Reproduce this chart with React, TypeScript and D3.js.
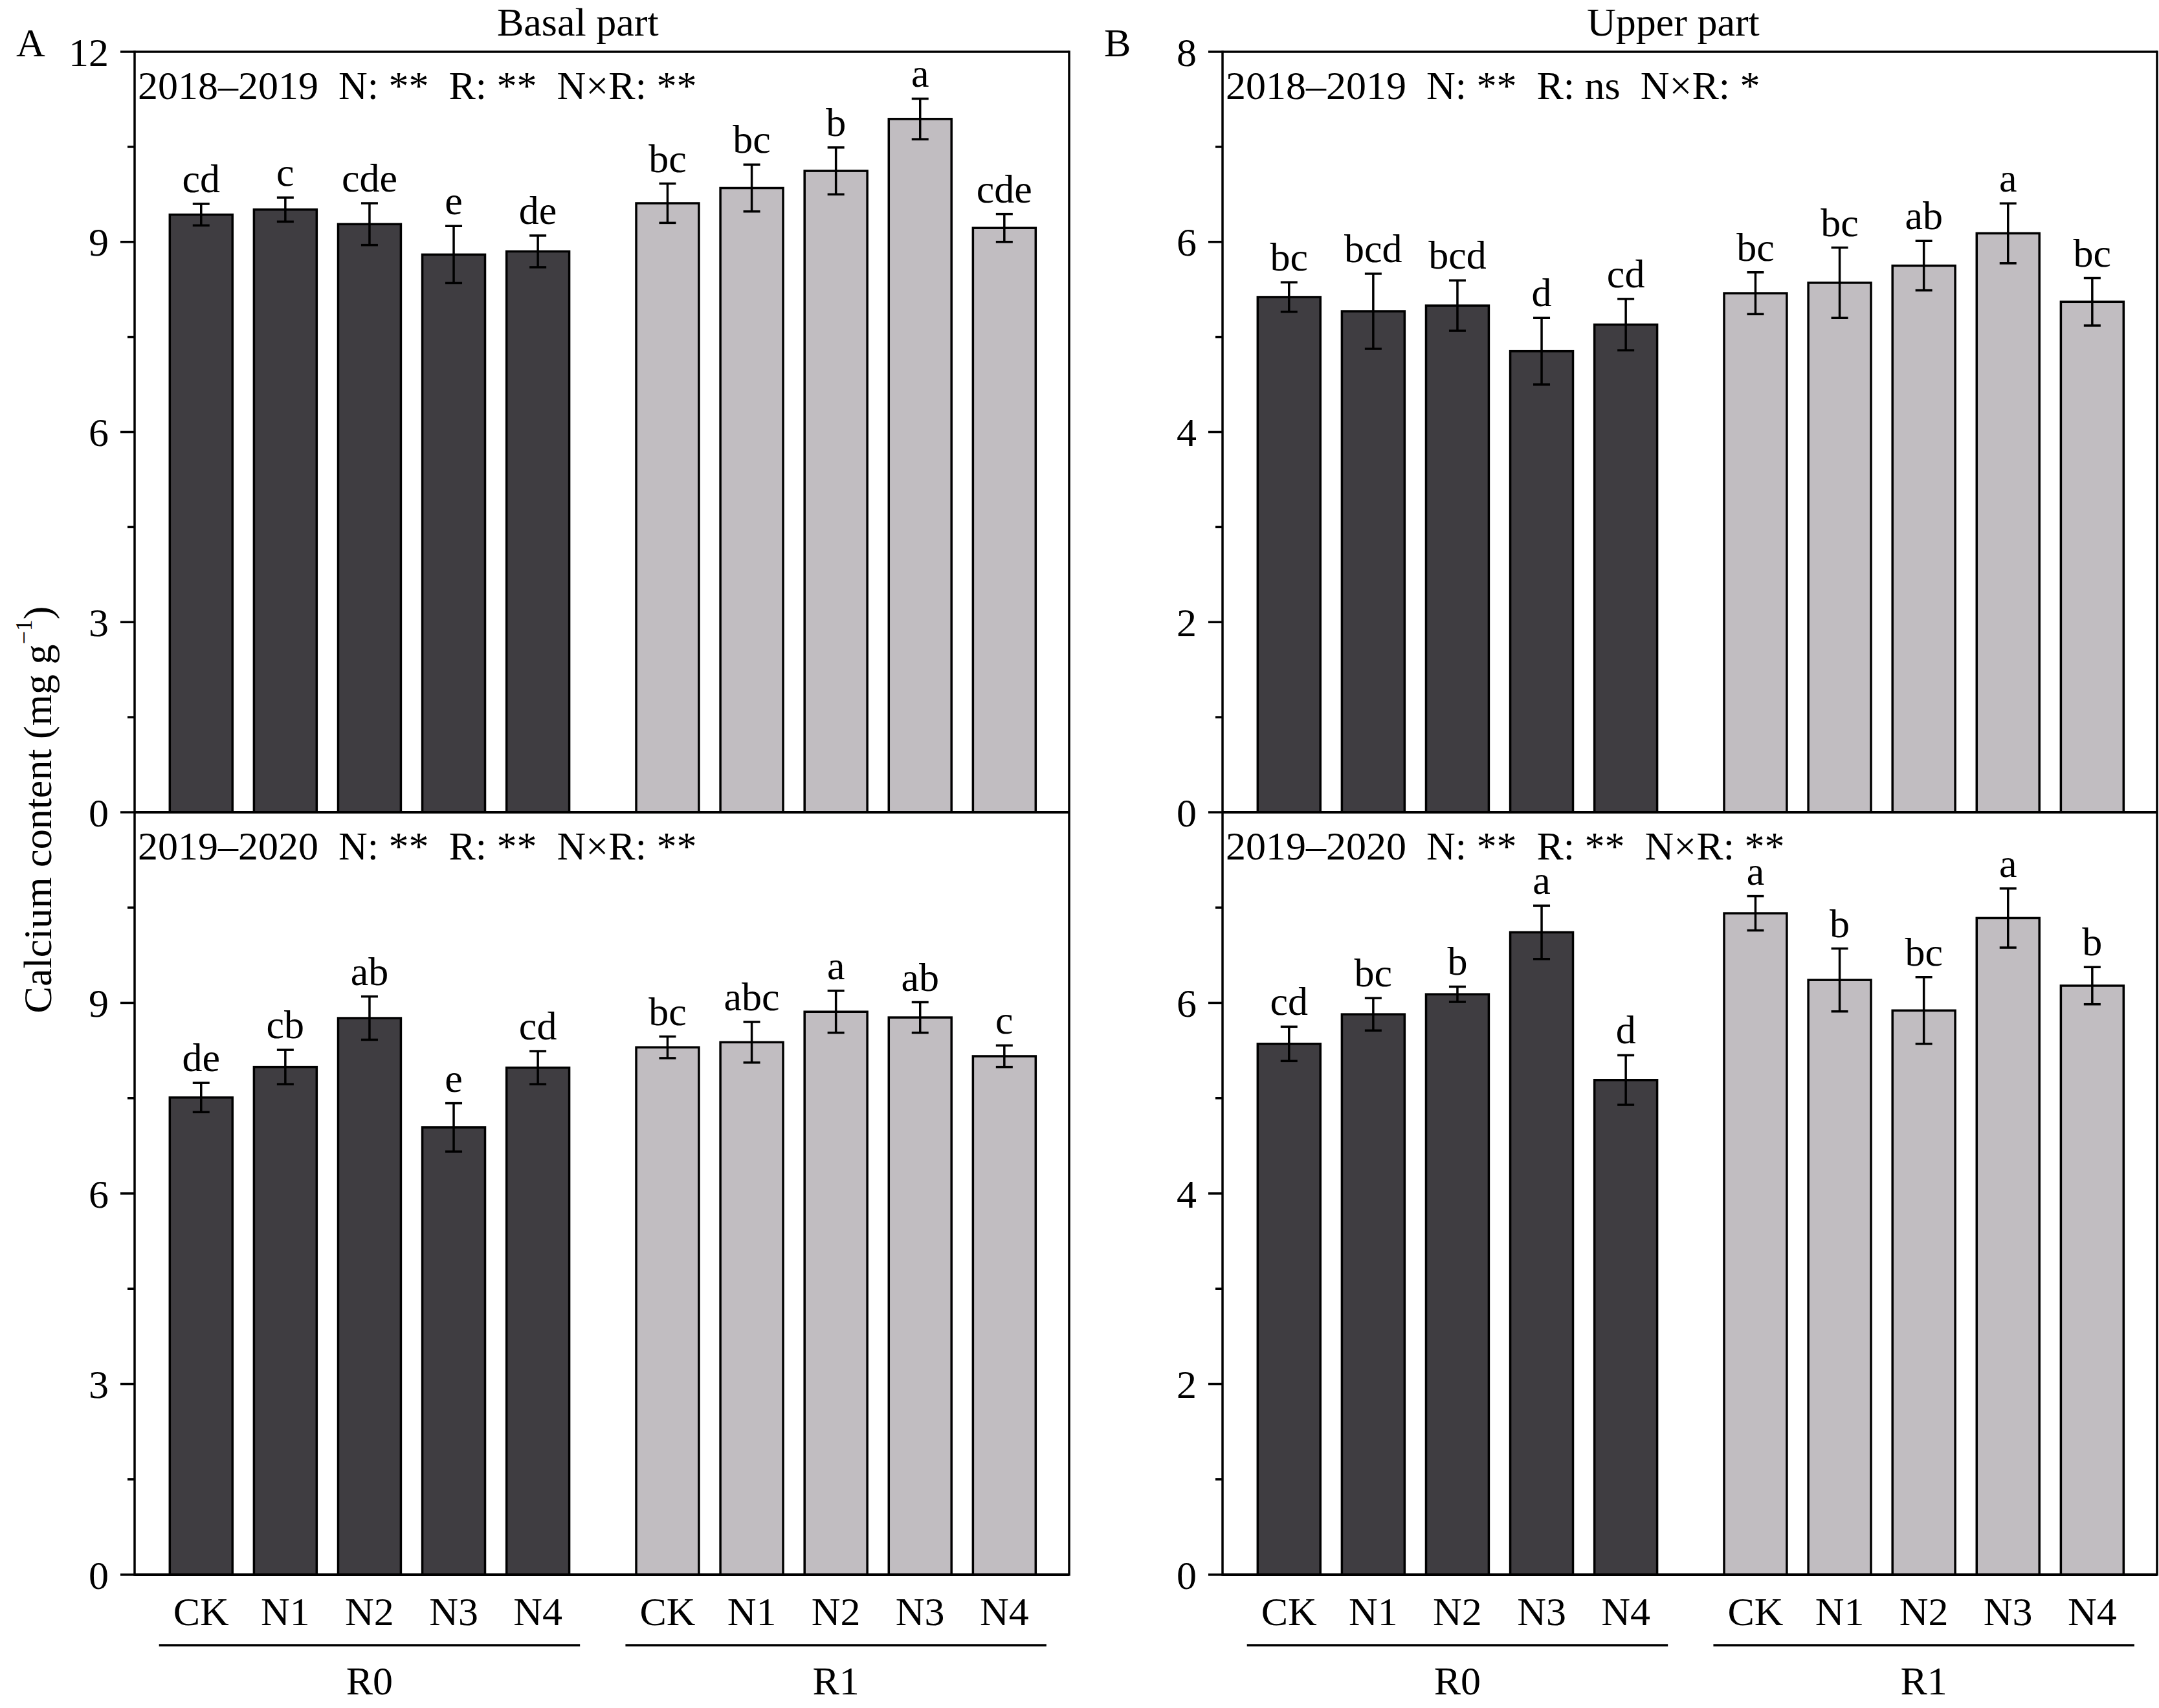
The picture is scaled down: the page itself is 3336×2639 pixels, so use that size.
import React from 'react';
import * as d3 from 'd3';

// ---- data ----
const treatments = ['CK', 'N1', 'N2', 'N3', 'N4'];
const residues = ['R0', 'R1'];

// A: basal part, 2018–2019
const basal1819R0 = [9.43, 9.51, 9.28, 8.8, 8.85];
const basal1819R0Err = [0.17, 0.19, 0.33, 0.45, 0.25];
const basal1819R0Sig = ['cd', 'c', 'cde', 'e', 'de'];
const basal1819R1 = [9.61, 9.85, 10.12, 10.94, 9.22];
const basal1819R1Err = [0.31, 0.37, 0.37, 0.32, 0.22];
const basal1819R1Sig = ['bc', 'bc', 'b', 'a', 'cde'];

// A: basal part, 2019–2020
const basal1920R0 = [7.51, 7.99, 8.76, 7.04, 7.98];
const basal1920R0Err = [0.23, 0.27, 0.34, 0.38, 0.26];
const basal1920R0Sig = ['de', 'cb', 'ab', 'e', 'cd'];
const basal1920R1 = [8.3, 8.38, 8.86, 8.77, 8.16];
const basal1920R1Err = [0.17, 0.32, 0.33, 0.24, 0.17];
const basal1920R1Sig = ['bc', 'abc', 'a', 'ab', 'c'];

// B: upper part, 2018–2019
const upper1819R0 = [5.42, 5.27, 5.33, 4.85, 5.13];
const upper1819R0Err = [0.155, 0.395, 0.265, 0.35, 0.27];
const upper1819R0Sig = ['bc', 'bcd', 'bcd', 'd', 'cd'];
const upper1819R1 = [5.46, 5.57, 5.75, 6.09, 5.37];
const upper1819R1Err = [0.22, 0.37, 0.26, 0.315, 0.25];
const upper1819R1Sig = ['bc', 'bc', 'ab', 'a', 'bc'];

// B: upper part, 2019–2020
const upper1920R0 = [5.57, 5.88, 6.09, 6.74, 5.19];
const upper1920R0Err = [0.18, 0.17, 0.08, 0.28, 0.26];
const upper1920R0Sig = ['cd', 'bc', 'b', 'a', 'd'];
const upper1920R1 = [6.94, 6.24, 5.92, 6.89, 6.18];
const upper1920R1Err = [0.18, 0.33, 0.35, 0.31, 0.195];
const upper1920R1Sig = ['a', 'b', 'bc', 'a', 'b'];

const statBasal1819 = '2018–2019  N: **  R: **  N×R: **';
const statBasal1920 = '2019–2020  N: **  R: **  N×R: **';
const statUpper1819 = '2018–2019  N: **  R: ns  N×R: *';
const statUpper1920 = '2019–2020  N: **  R: **  N×R: **';

// ---- layout ----
const W = 3336;
const H = 2639;
const FONT = '"Liberation Serif", "Times New Roman", serif';
const FS = 62;
const LW = 3.5;
const fills = ['#3f3d41', '#c1bdc1'];
const top = 80;
const mid = 1255;
const bottom = 2433;
const plotW = 1444;

const columns = [
  {
    letter: 'A',
    title: 'Basal part',
    titleX: 768,
    left: 208,
    yMax: 12,
    major: 3,
    minor: 1.5,
    rows: [
      {
        stat: statBasal1819,
        series: [
          { v: basal1819R0, e: basal1819R0Err, s: basal1819R0Sig },
          { v: basal1819R1, e: basal1819R1Err, s: basal1819R1Sig },
        ],
      },
      {
        stat: statBasal1920,
        series: [
          { v: basal1920R0, e: basal1920R0Err, s: basal1920R0Sig },
          { v: basal1920R1, e: basal1920R1Err, s: basal1920R1Sig },
        ],
      },
    ],
  },
  {
    letter: 'B',
    title: 'Upper part',
    titleX: 2452,
    left: 1889,
    yMax: 8,
    major: 2,
    minor: 1,
    rows: [
      {
        stat: statUpper1819,
        series: [
          { v: upper1819R0, e: upper1819R0Err, s: upper1819R0Sig },
          { v: upper1819R1, e: upper1819R1Err, s: upper1819R1Sig },
        ],
      },
      {
        stat: statUpper1920,
        series: [
          { v: upper1920R0, e: upper1920R0Err, s: upper1920R0Sig },
          { v: upper1920R1, e: upper1920R1Err, s: upper1920R1Sig },
        ],
      },
    ],
  },
];

// position of a bar in slot units (group gap a bit wider than one slot)
const slot = (g, i) => 0.79 + i + g * 5.54;

const Column = ({ col }) => {
  const x = d3.scaleLinear().domain([0, 11.1]).range([col.left, col.left + plotW]);
  const unit = x(1) - x(0);
  const barW = 0.745 * unit;
  const capW = 26;
  const right = col.left + plotW;
  const rowRanges = [
    [mid, top],
    [bottom, mid],
  ];

  return (
    <g>
      {/* panel letter and title */}
      <text x={col.left - 183} y={87} fontSize={FS}>{col.letter}</text>
      <text x={col.titleX} y={55} fontSize={FS}>{col.title}</text>

      {col.rows.map((row, r) => {
        const y = d3.scaleLinear().domain([0, col.yMax]).range(rowRanges[r]);
        const majors = d3.range(0, col.yMax + 1e-9, col.major).filter((t) => r === 0 || t < col.yMax);
        const minors = d3.range(col.minor, col.yMax, col.major);
        return (
          <g key={r}>
            {row.series.map((s, g) =>
              s.v.map((v, i) => {
                const cx = x(slot(g, i));
                const hi = v + s.e[i];
                const lo = v - s.e[i];
                return (
                  <g key={`${g}-${i}`}>
                    <rect
                      x={cx - barW / 2}
                      y={y(v)}
                      width={barW}
                      height={y(0) - y(v)}
                      fill={fills[g]}
                      stroke="#000"
                      strokeWidth={LW}
                    />
                    <line x1={cx} x2={cx} y1={y(hi)} y2={y(lo)} stroke="#000" strokeWidth={LW} />
                    <line x1={cx - capW / 2} x2={cx + capW / 2} y1={y(hi)} y2={y(hi)} stroke="#000" strokeWidth={LW} />
                    <line x1={cx - capW / 2} x2={cx + capW / 2} y1={y(lo)} y2={y(lo)} stroke="#000" strokeWidth={LW} />
                    <text x={cx} y={y(hi) - 18} fontSize={FS} textAnchor="middle">
                      {s.s[i]}
                    </text>
                  </g>
                );
              })
            )}

            <text
              x={col.left + 5}
              y={rowRanges[r][1] + 73}
              fontSize={FS}
              xmlSpace="preserve"
              style={{ whiteSpace: 'pre' }}
            >
              {row.stat}
            </text>

            {/* y ticks */}
            {majors.map((t) => (
              <g key={`M${t}`}>
                <line x1={col.left - 22} x2={col.left} y1={y(t)} y2={y(t)} stroke="#000" strokeWidth={LW} />
                <text x={col.left - 40} y={y(t)} dy="0.35em" fontSize={FS} textAnchor="end">
                  {t}
                </text>
              </g>
            ))}
            {minors.map((t) => (
              <line key={`m${t}`} x1={col.left - 11} x2={col.left} y1={y(t)} y2={y(t)} stroke="#000" strokeWidth={LW} />
            ))}
          </g>
        );
      })}

      {/* frame */}
      <line x1={col.left} x2={right} y1={top} y2={top} stroke="#000" strokeWidth={LW} />
      <line x1={col.left} x2={right} y1={mid} y2={mid} stroke="#000" strokeWidth={LW + 0.5} />
      <line x1={col.left} x2={right} y1={bottom} y2={bottom} stroke="#000" strokeWidth={LW + 0.5} />
      <line x1={col.left} x2={col.left} y1={top - LW / 2} y2={bottom + LW / 2} stroke="#000" strokeWidth={LW} />
      <line x1={right} x2={right} y1={top - LW / 2} y2={bottom + LW / 2} stroke="#000" strokeWidth={LW} />

      {/* x labels */}
      {residues.map((res, g) => (
        <g key={res}>
          {treatments.map((t, i) => (
            <text key={t} x={x(slot(g, i))} y={2511} fontSize={FS} textAnchor="middle">
              {t}
            </text>
          ))}
          <line
            x1={x(slot(g, 0) - 0.5)}
            x2={x(slot(g, 4) + 0.5)}
            y1={2542}
            y2={2542}
            stroke="#000"
            strokeWidth={LW}
          />
          <text x={x(slot(g, 2))} y={2618} fontSize={FS} textAnchor="middle">
            {res}
          </text>
        </g>
      ))}
    </g>
  );
};

export default function App() {
  return (
    <svg
      width={W}
      height={H}
      viewBox={`0 0 ${W} ${H}`}
      style={{ position: 'absolute', left: 0, top: 0, display: 'block', background: '#fff' }}
      fontFamily={FONT}
    >
      <rect width={W} height={H} fill="#fff" />
      {columns.map((c) => (
        <Column key={c.letter} col={c} />
      ))}
      <text transform={`translate(79, 1251) rotate(-90)`} fontSize={FS} textAnchor="middle">
        Calcium content (mg g
        <tspan fontSize={36} dy={-30}>
          −1
        </tspan>
        <tspan dy={30}>)</tspan>
      </text>
    </svg>
  );
}
